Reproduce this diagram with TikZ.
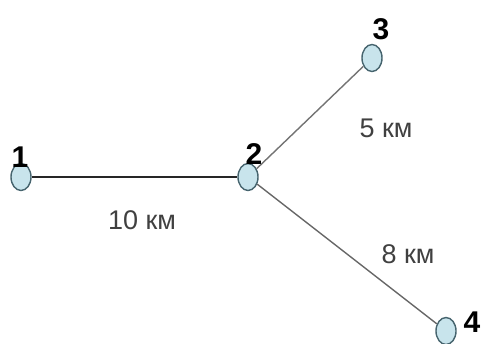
\documentclass[tikz,border=0pt]{standalone}
\usepackage{fontspec}
\setmainfont{Liberation Sans}
\usepackage{tikz}
\usetikzlibrary{shapes.geometric}
\definecolor{nodefill}{RGB}{200,228,236}
\definecolor{nodeedge}{RGB}{70,100,110}

\begin{document}
\begin{tikzpicture}[x=1pt,y=-1pt,
    vertex/.style={ellipse, draw=nodeedge, fill=nodefill, line width=1.4pt,
        minimum width=20pt, minimum height=27pt, inner sep=0pt},
    num/.style={font=\fontsize{30}{30}\selectfont\bfseries},
    dist/.style={font=\fontsize{27}{27}\selectfont, text=black!75},
    edge/.style={line width=1.4pt}]
\useasboundingbox (0,0) rectangle (481,343);
% --- vertices ---
\node[vertex] (v1) at (21,177) {};
\node[vertex] (v2) at (248,177) {};
\node[vertex] (v3) at (372,58) {};
\node[vertex] (v4) at (446,331) {};
% --- vertex numbers ---
\node[num] (n1) at (20,157) {1};
\node[num] (n2) at (254,154) {2};
\node[num] (n3) at (381,29) {3};
\node[num] (n4) at (472,322) {4};
% --- roads ---
\draw[edge, black!85] (v1) -- (v2);
\draw[edge, black!55] (v2) -- (v3);
\draw[edge, black!60] (v2) -- (v4);
% --- distances ---
\node[dist] (d12) at (142,220) {10 км};
\node[dist] (d23) at (386,128) {5 км};
\node[dist] (d24) at (408,254) {8 км};
\end{tikzpicture}
\end{document}
